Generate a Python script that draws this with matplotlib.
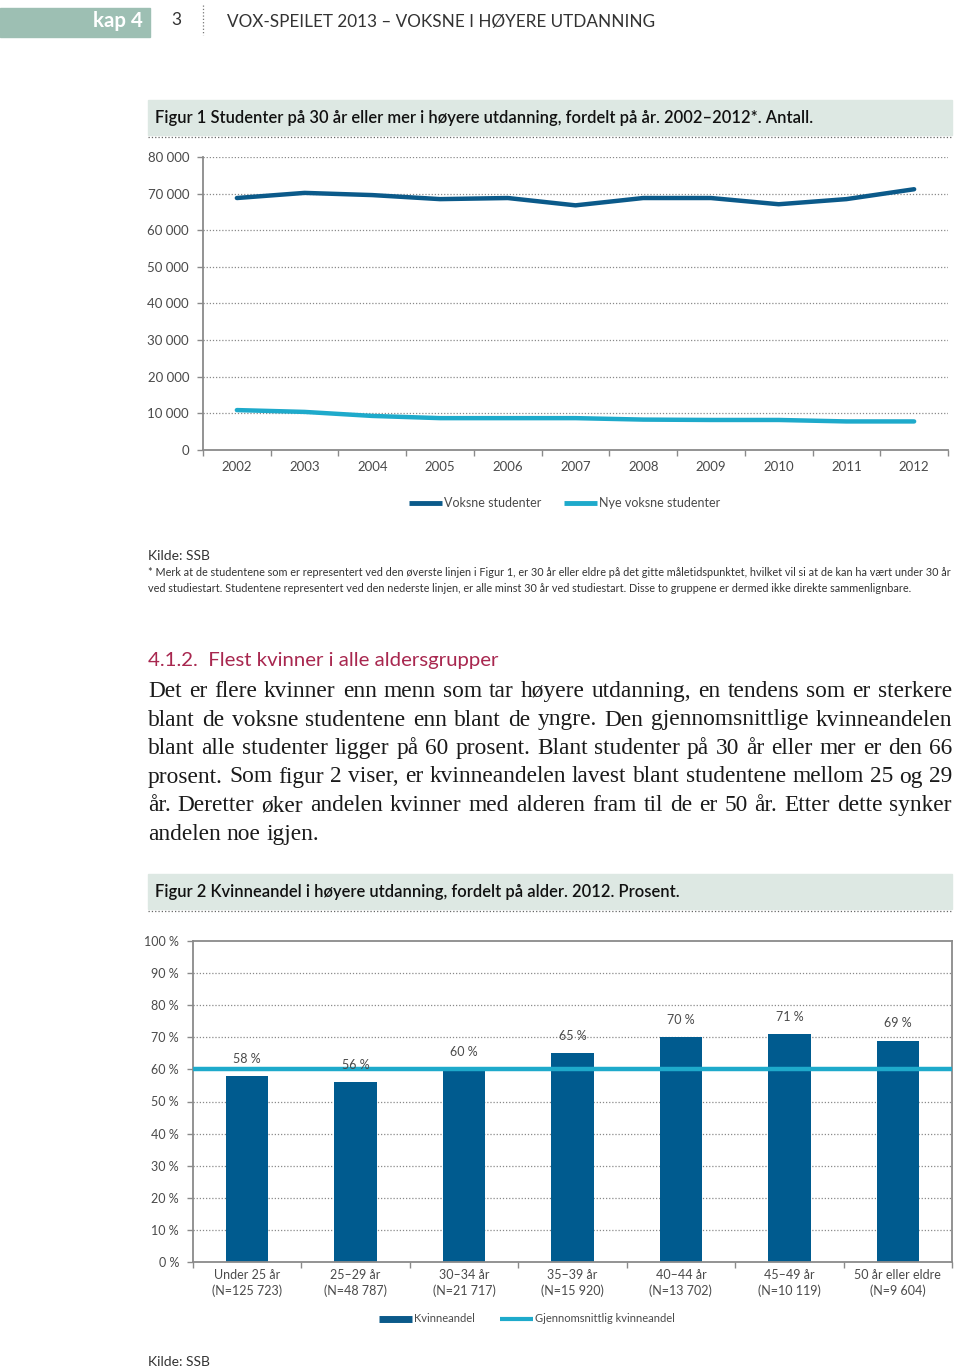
import matplotlib
matplotlib.use('Agg')
import matplotlib.pyplot as plt
from matplotlib.lines import Line2D
from matplotlib.ticker import FixedLocator, FuncFormatter

# canvas in pixels
W, H = 960, 1371

# Figur 1 data
years = [2002, 2003, 2004, 2005, 2006, 2007, 2008, 2009, 2010, 2011, 2012]
voksne = [68800, 70200, 69600, 68500, 68800, 66800, 68800, 68800, 67100, 68500, 71200]
nye_voksne = [10900, 10400, 9300, 8700, 8700, 8700, 8300, 8200, 8200, 7800, 7800]

# Figur 2 data
age_groups = ['Under 25 år\n(N=125 723)', '25–29 år\n(N=48 787)', '30–34 år\n(N=21 717)',
              '35–39 år\n(N=15 920)', '40–44 år\n(N=13 702)', '45–49 år\n(N=10 119)',
              '50 år eller eldre\n(N=9 604)']
kvinneandel = [58, 56, 60, 65, 70, 71, 69]
snitt = 60

body_lines = [
    'Det er flere kvinner enn menn som tar høyere utdanning, en tendens som er sterkere',
    'blant de voksne studentene enn blant de yngre. Den gjennomsnittlige kvinneandelen',
    'blant alle studenter ligger på 60 prosent. Blant studenter på 30 år eller mer er den 66',
    'prosent. Som figur 2 viser, er kvinneandelen lavest blant studentene mellom 25 og 29',
    'år. Deretter øker andelen kvinner med alderen fram til de er 50 år. Etter dette synker',
    'andelen noe igjen.',
]
footnote = ['* Merk at de studentene som er representert ved den øverste linjen i Figur 1, er 30 år eller '
            'eldre på det gitte måletidspunktet, hvilket vil si at de kan ha vært under 30 år',
            'ved studiestart. Studentene representert ved den nederste linjen, er alle minst 30 år ved '
            'studiestart. Disse to gruppene er dermed ikke direkte sammenlignbare.']

DARK = '#0b5a8a'
LIGHT = '#1eaacb'
GRID = '#8a8a8a'
TXT = '#4a4a4a'
SANS = ['Lato', 'DejaVu Sans']
SERIF = ['Liberation Serif', 'DejaVu Serif']

plt.rcParams['font.family'] = SANS

fig = plt.figure(figsize=(W / 100, H / 100), dpi=100)
r = fig.canvas.get_renderer()


def fy(y):
    return 1 - y / H


def fit(x, y, s, width, size=10, **kw):
    # put text at pixel position and scale font so its width matches
    t = fig.text(x / W, fy(y), s, fontsize=size, va='center', **kw)
    w = t.get_window_extent(renderer=r).width
    t.set_fontsize(size * width / w)
    return t


# ---- page header
fig.patches.append(plt.Rectangle((0, fy(37)), 150 / W, 29 / H, transform=fig.transFigure,
                                 color='#9dbfb3', zorder=0))
fit(93, 21, 'kap 4', 50, color='white', fontweight='bold')
fit(171, 20, '3', 10, color='#333333')
fig.add_artist(Line2D([203 / W, 203 / W], [fy(5), fy(35)], color='#777777', lw=0.9, ls=':'))
fit(227, 22, 'VOX-SPEILET 2013 – VOKSNE I HØYERE UTDANNING', 423, color='#333333')

# ---- figure title boxes
for top, bot, title, tw in [(100, 135, 'Figur 1 Studenter på 30 år eller mer i høyere utdanning, '
                                        'fordelt på år. 2002–2012*. Antall.', 658),
                            (874, 909, 'Figur 2 Kvinneandel i høyere utdanning, fordelt på alder. '
                                       '2012. Prosent.', 523)]:
    fig.patches.append(plt.Rectangle((148 / W, fy(bot)), 804 / W, (bot - top) / H,
                                     transform=fig.transFigure, color='#dde8e3', zorder=0))
    fig.add_artist(Line2D([148 / W, 952 / W], [fy(bot + 2), fy(bot + 2)], color='#666666',
                          lw=0.9, ls=':'))
    fit(155, (top + bot) / 2, title, tw, color='#111111', fontweight='semibold')

# ---- Figur 1: line chart
ax1 = fig.add_axes([203 / W, fy(450), 745 / W, 293 / H])
ax1.plot(years, voksne, color=DARK, lw=3.2, solid_joinstyle='round', solid_capstyle='round')
ax1.plot(years, nye_voksne, color=LIGHT, lw=3.2, solid_joinstyle='round', solid_capstyle='round')
ax1.set_xlim(2001.5, 2012.5)
ax1.set_ylim(0, 80000)
ax1.set_yticks(range(0, 80001, 10000))
ax1.yaxis.set_major_formatter(FuncFormatter(lambda v, p: f'{int(v):,}'.replace(',', ' ')))
ax1.set_xticks(years)
ax1.xaxis.set_minor_locator(FixedLocator([y - 0.5 for y in years] + [2012.5]))
ax1.tick_params(axis='x', which='major', length=0, pad=8, labelsize=9.5, labelcolor=TXT)
ax1.tick_params(axis='x', which='minor', length=4, color=GRID, width=1)
ax1.tick_params(axis='y', length=4, color=GRID, width=1, pad=6, labelsize=9.5, labelcolor=TXT)
for y in range(10000, 80001, 10000):
    ax1.axhline(y, color=GRID, lw=0.9, ls=(0, (1, 1.5)), zorder=0)
for s in ['top', 'right']:
    ax1.spines[s].set_visible(False)
for s in ['left', 'bottom']:
    ax1.spines[s].set_color(GRID)
    ax1.spines[s].set_linewidth(1.3)
ax1.legend(handles=[Line2D([], [], color=DARK, lw=3.5, solid_capstyle='butt'),
                    Line2D([], [], color=LIGHT, lw=3.5, solid_capstyle='butt')],
           labels=['Voksne studenter', 'Nye voksne studenter'], ncol=2, frameon=False,
           loc='center', bbox_to_anchor=(565 / W, fy(503)), bbox_transform=fig.transFigure,
           fontsize=9, handlelength=2.6, handletextpad=0.2, columnspacing=1.8, labelcolor=TXT)

# ---- Kilde + footnote
fit(148, 556, 'Kilde: SSB', 62, color='#333333')
t = fit(148, 573, footnote[0], 798, color='#333333')
fig.text(148 / W, fy(588), footnote[1], fontsize=t.get_fontsize(), va='center', color='#333333')

# ---- section heading + body text
fit(148, 660, '4.1.2.  Flest kvinner i alle aldersgrupper', 351, color='#a8274f')

# body size: widest line fits the column with normal spacing
probe = [fig.text(0, 0, ln, fontsize=10, family=SERIF) for ln in body_lines[:-1]]
widest = max(p.get_window_extent(renderer=r).width for p in probe)
for p in probe:
    p.remove()
BODY = 10 * 804 / widest * 0.995

for i, line in enumerate(body_lines):
    base = 697 + i * 28.5
    words = line.split()
    ts = [fig.text(0, fy(base), w, fontsize=BODY, family=SERIF, va='baseline', color='#1a1a1a')
          for w in words]
    ws = [tt.get_window_extent(renderer=r).width for tt in ts]
    if i < len(body_lines) - 1:
        gap = (952 - 148 - sum(ws)) / (len(words) - 1)
    else:
        gap = BODY * 100 / 72 * 0.25
    x = 148
    for tt, w in zip(ts, ws):
        tt.set_x(x / W)
        x += w + gap

# ---- Figur 2: bar chart
ax2 = fig.add_axes([193 / W, fy(1262), 759 / W, 321 / H])
xs = range(len(kvinneandel))
ax2.bar(xs, kvinneandel, width=0.39, color='#005b8f', zorder=2)
ax2.axhline(snitt, color=LIGHT, lw=3.2, zorder=3)
for x, v in zip(xs, kvinneandel):
    ax2.text(x, v + 5.3, f'{v} %', ha='center', va='center', fontsize=9, color=TXT, zorder=4)
ax2.set_xlim(-0.5, len(kvinneandel) - 0.5)
ax2.set_ylim(0, 100)
ax2.set_yticks(range(0, 101, 10))
ax2.set_yticklabels([f'{v} %' for v in range(0, 101, 10)])
ax2.set_xticks(list(xs))
ax2.set_xticklabels(age_groups, linespacing=1.3)
ax2.xaxis.set_minor_locator(FixedLocator([x - 0.5 for x in xs] + [len(kvinneandel) - 0.5]))
ax2.tick_params(axis='x', which='major', length=0, pad=5, labelsize=9, labelcolor=TXT)
ax2.tick_params(axis='x', which='minor', length=4, color=GRID, width=1)
ax2.tick_params(axis='y', length=4, color=GRID, width=1, pad=6, labelsize=9, labelcolor=TXT)
for y in range(10, 100, 10):
    ax2.axhline(y, color=GRID, lw=0.9, ls=(0, (1, 1.5)), zorder=0)
for s in ax2.spines.values():
    s.set_color(GRID)
    s.set_linewidth(1.3)
ax2.legend(handles=[Line2D([], [], color=DARK, lw=5, solid_capstyle='butt'),
                    Line2D([], [], color=LIGHT, lw=3, solid_capstyle='butt')],
           labels=['Kvinneandel', 'Gjennomsnittlig kvinneandel'], ncol=2, frameon=False,
           loc='center', bbox_to_anchor=(527 / W, fy(1319)), bbox_transform=fig.transFigure,
           fontsize=8, handlelength=3.0, handletextpad=0.2, columnspacing=2.2, labelcolor=TXT)

fit(148, 1362, 'Kilde: SSB', 62, color='#333333')

fig.savefig('out.png', dpi=100)
